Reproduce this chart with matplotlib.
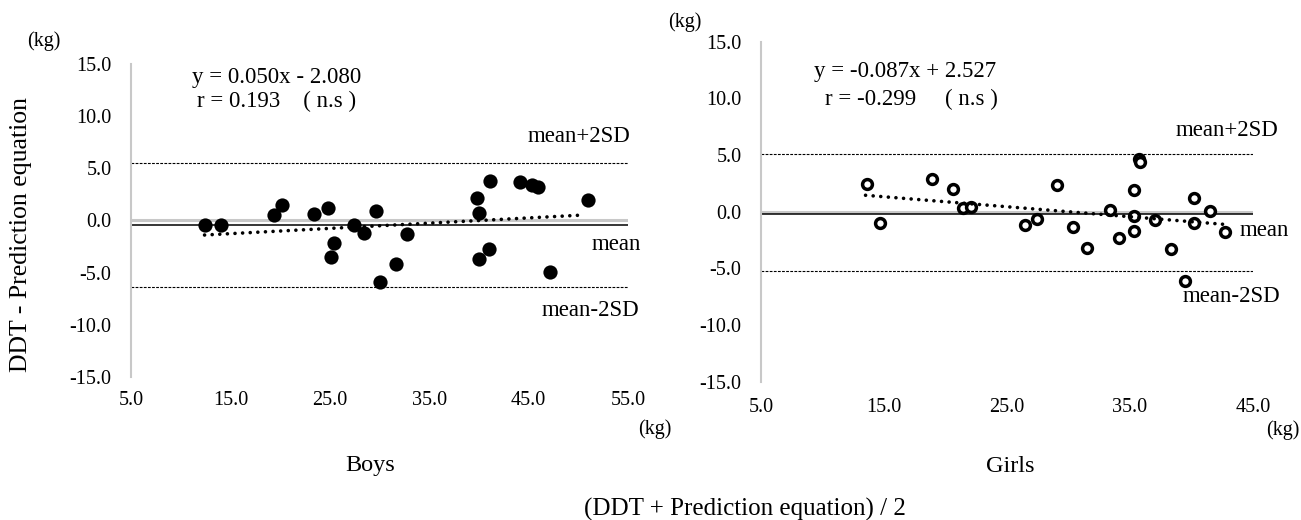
import matplotlib
matplotlib.use('Agg')
import matplotlib.pyplot as plt

# Boys: mean of DDT and prediction (x) vs difference (y)
boys_x = [12.4, 14.1, 19.4, 20.2, 23.4, 24.8, 25.4, 25.1, 27.4, 28.4, 29.6, 30.0,
          31.7, 32.8, 39.8, 40.0, 40.0, 41.0, 41.1, 44.1, 45.3, 45.9, 47.2, 51.0]
boys_y = [-0.45, -0.45, 0.51, 1.47, 0.57, 1.15, -2.20, -3.49, -0.45, -1.25, 0.89, -5.94,
          -4.21, -1.34, 2.11, 0.67, -3.71, -2.78, 3.76, 3.64, 3.38, 3.16, -4.98, 1.94]
boys_trend_x = [12.4, 50.6]
boys_trend_y = [-1.40, 0.52]
boys_mean = -0.4
boys_upper = 5.5
boys_lower = -6.35

# Girls
girls_x = [13.6, 14.7, 18.9, 20.6, 21.4, 22.1, 26.5, 27.4, 29.1, 30.4, 31.5, 33.4, 34.1,
           35.3, 35.3, 35.3, 35.7, 35.8, 37.0, 38.3, 39.5, 40.2, 40.2, 41.5, 42.7]
girls_y = [2.42, -0.97, 2.86, 2.00, 0.35, 0.38, -1.17, -0.64, 2.36, -1.32, -3.20, 0.15, -2.29,
           1.89, -0.38, -1.68, 4.62, 4.36, -0.73, -3.32, -6.15, 1.24, -0.97, 0.09, -1.82]
girls_trend_x = [13.5, 42.7]
girls_trend_y = [1.45, -1.12]
girls_mean = -0.2
girls_upper = 5.1
girls_lower = -5.2

yticks = [-15, -10, -5, 0, 5, 10, 15]
boys_xticks = [5, 15, 25, 35, 45, 55]
girls_xticks = [5, 15, 25, 35, 45]

plt.rcParams['font.family'] = ['Liberation Serif', 'DejaVu Serif']

W, H = 1301, 520
fig = plt.figure(figsize=(W / 100, H / 100), dpi=100)


def px(x, y):
    return x / W, 1 - y / H


def panel(rect, xs, ys, tx, ty, mean, upper, lower, xlim, xticks, filled, xpad):
    ax = fig.add_axes(rect)
    ax.set_xlim(*xlim)
    ax.set_ylim(-15, 15)
    for s in ['top', 'right', 'bottom']:
        ax.spines[s].set_visible(False)
    ax.spines['left'].set_color('#c8c8c8')
    ax.spines['left'].set_linewidth(1.5)
    ax.axhline(0, color='#c8c8c8', lw=2.2, zorder=1)
    ax.axhline(mean, color='black', lw=1.1, zorder=2)
    ax.axhline(upper, color='black', lw=0.8, ls=(0, (2.5, 1.2)), zorder=2)
    ax.axhline(lower, color='black', lw=0.8, ls=(0, (2.5, 1.2)), zorder=2)
    if filled:
        ax.scatter(xs, ys, s=105, color='black', zorder=3, linewidths=0)
    else:
        ax.scatter(xs, ys, s=50, facecolor='white', edgecolor='black',
                   linewidths=2.5, zorder=3)
    ax.plot(tx, ty, color='black', lw=2.6, ls=(0, (0.01, 2.1)),
            dash_capstyle='round', zorder=4)
    ax.set_yticks(yticks)
    ax.set_yticklabels(['%.1f' % v for v in yticks])
    ax.set_xticks(xticks)
    ax.set_xticklabels(['%.1f' % v for v in xticks])
    ax.tick_params(axis='y', length=0, pad=14, labelsize=14.5)
    ax.tick_params(axis='x', length=0, pad=xpad, labelsize=14.5)
    return ax


panel([131 / W, 1 - 377 / H, 497 / W, 313.2 / H], boys_x, boys_y,
      boys_trend_x, boys_trend_y, boys_mean, boys_upper, boys_lower,
      (5, 55), boys_xticks, True, 10)
panel([761 / W, 1 - 381.7 / H, 492 / W, 340 / H], girls_x, girls_y,
      girls_trend_x, girls_trend_y, girls_mean, girls_upper, girls_lower,
      (5, 45), girls_xticks, False, 11.5)

ann = 16.5
# Boys texts
fig.text(*px(44, 41), '(kg)', fontsize=14.5, ha='center', va='center')
fig.text(*px(21, 234), 'DDT - Prediction equation', fontsize=18.5, rotation=90,
         ha='center', va='center')
fig.text(*px(277, 77), 'y = 0.050x - 2.080', fontsize=ann, ha='center', va='center')
fig.text(*px(277, 101), 'r = 0.193    ( n.s )', fontsize=ann, ha='center', va='center')
fig.text(*px(630, 137), 'mean+2SD', fontsize=ann, ha='right', va='center')
fig.text(*px(641, 244), 'mean', fontsize=ann, ha='right', va='center')
fig.text(*px(639, 311), 'mean-2SD', fontsize=ann, ha='right', va='center')
fig.text(*px(655, 429), '(kg)', fontsize=14.5, ha='center', va='center')
fig.text(*px(370, 466), 'Boys', fontsize=17.5, ha='center', va='center')

# Girls texts
fig.text(*px(685, 22), '(kg)', fontsize=14.5, ha='center', va='center')
fig.text(*px(905, 72), 'y = -0.087x + 2.527', fontsize=ann, ha='center', va='center')
fig.text(*px(911, 99), 'r = -0.299     ( n.s )', fontsize=ann, ha='center', va='center')
fig.text(*px(1278, 131), 'mean+2SD', fontsize=ann, ha='right', va='center')
fig.text(*px(1289, 231), 'mean', fontsize=ann, ha='right', va='center')
fig.text(*px(1280, 297), 'mean-2SD', fontsize=ann, ha='right', va='center')
fig.text(*px(1283, 430), '(kg)', fontsize=14.5, ha='center', va='center')
fig.text(*px(1010, 466), 'Girls', fontsize=17.5, ha='center', va='center')

fig.text(*px(745, 509), '(DDT + Prediction equation) / 2', fontsize=18,
         ha='center', va='center')

fig.savefig('out.png', dpi=100)
